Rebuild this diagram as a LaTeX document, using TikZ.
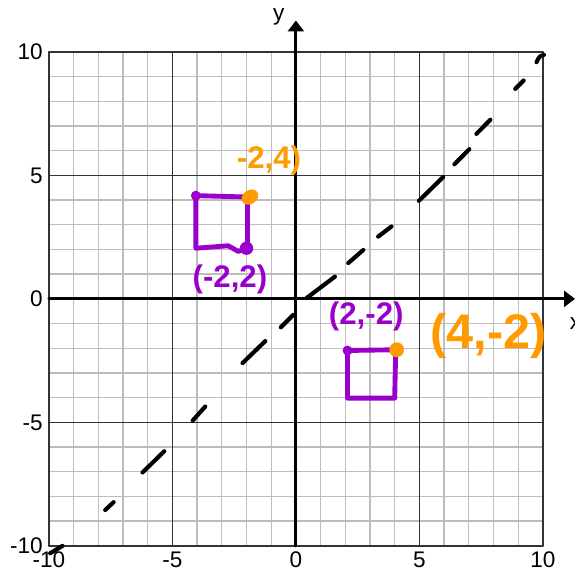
\documentclass[tikz,border=0pt]{standalone}
\usepackage{fontspec}
\setmainfont{Liberation Sans}
\usepackage{tikz}
\usetikzlibrary{arrows.meta}
\definecolor{penpurple}{RGB}{153,0,204}
\definecolor{penorange}{RGB}{255,155,0}

\begin{document}
\begin{tikzpicture}[x=0.5cm, y=0.5cm, line cap=round, line join=round,
  minor/.style={draw=black!26, line width=0.8pt},
  major/.style={draw=black!80, line width=0.8pt},
  axis/.style={line width=1.7pt, -{Triangle[length=2.2mm, width=3.2mm]}},
  dashseg/.style={line width=2.4pt},
  tick/.style={font=\fontsize{13}{13}\selectfont, inner sep=0pt},
  pen/.style={line width=2.8pt, draw=penpurple},
  hand/.style={font=\fontsize{18}{18}\selectfont\bfseries, inner sep=0pt}]

\useasboundingbox (-11.98,-11.05) rectangle (11.3,12.1);

\foreach \k in {-9,...,9} {
  \draw[minor] (\k,-10) -- (\k,10);
  \draw[minor] (-10,\k) -- (10,\k);
}
\foreach \k in {-10,-5,5,10} {
  \draw[major] (\k,-10) -- (\k,10);
  \draw[major] (-10,\k) -- (10,\k);
}

\foreach \k in {-10,-5,0,5,10} {
  \node (xt\k) [tick, anchor=north] at (\k,-10.24) {\k};
  \node (yt\k) [tick, anchor=east] at (-10.24,\k) {\k};
}

\coordinate (xend) at (11.3,0);
\coordinate (yend) at (0,11.27);
\draw[axis] (-10,0) -- (xend);
\draw[axis] (0,-10) -- (yend);
\node (ylab) [tick] at (-0.69,11.4) {y};
\node (xlab) [tick] at (11.32,-1.0) {x};

\foreach \xa/\ya/\xb/\yb in {-9.95/-10.3/-9.45/-10, -7.72/-8.55/-7.38/-8.23,
    -6.21/-7.03/-5.33/-6.17, -4.18/-4.93/-3.67/-4.36, -2.16/-2.6/-1.24/-1.71,
    -0.61/-1.15/-0.11/-0.65, 0.43/0.03/1.58/0.9, 2.12/1.45/2.73/1.98,
    3.33/2.52/3.87/2.93, 4.98/3.97/5.96/4.93, 6.42/5.45/7.02/6.06,
    7.31/6.68/7.87/7.25, 8.88/8.5/9.22/8.84}
  \draw[dashseg] (\xa,\ya) -- (\xb,\yb);
\draw[dashseg] (9.74,9.58) .. controls (9.86,9.82) .. (10.04,9.88);

\coordinate (pA) at (-4.05,4.18);
\coordinate (pB) at (-1.86,4.12);
\coordinate (pC) at (-2.0,2.05);
\draw[pen] (pB) -- (pA) -- (-4.05,2.05) -- (-2.74,2.15) -- (-2.33,1.92) -- (pC);
\draw[pen] (-1.97,4.0) -- (-1.97,2.1);
\fill[penpurple] (pA) circle (0.2);
\fill[penpurple] (pC) circle (0.27);
\fill[penorange, rotate around={35:(pB)}] (pB) ellipse (0.36 and 0.28);

\coordinate (qA) at (2.09,-2.09);
\coordinate (qB) at (4.08,-2.06);
\draw[pen] (qA) -- (qB);
\draw[pen] (qA) -- (2.09,-4.02) -- (4.0,-4.02) -- (4.04,-2.1);
\fill[penpurple] (qA) circle (0.2);
\fill[penorange] (qB) circle (0.3);

\node (lblA) [hand, text=penorange] at (-1.09,5.59) {-2,4)};
\node (lblC) [hand, text=penpurple] at (-2.67,0.77) {(-2,2)};
\node (lblQ) [hand, text=penpurple] at (2.85,-0.72) {(2,-2)};
\node (lblR) [hand, text=penorange, font=\fontsize{28}{28}\selectfont\bfseries] at (7.8,-1.5) {(4,-2)};

\end{tikzpicture}
\end{document}
